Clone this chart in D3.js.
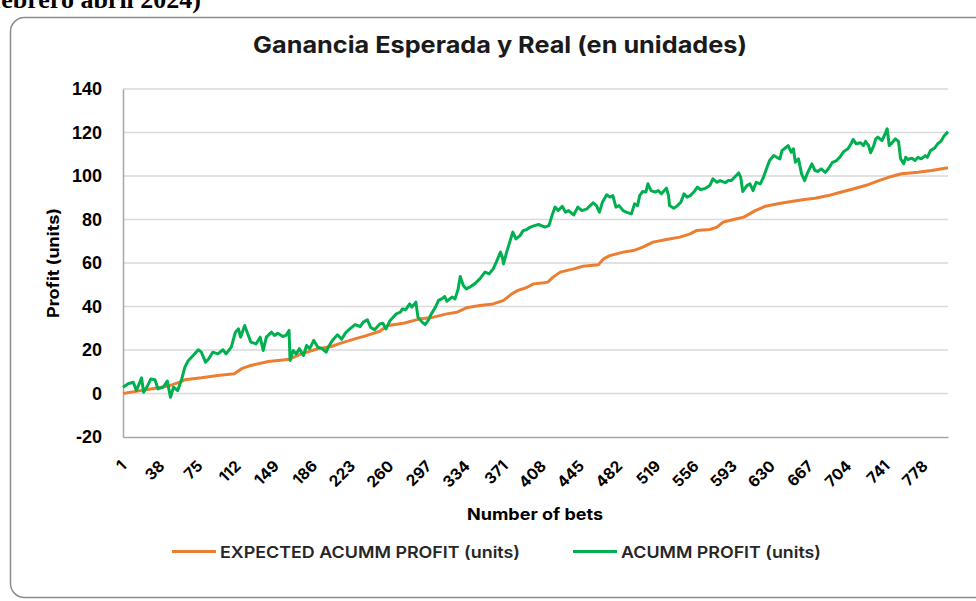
<!DOCTYPE html>
<html><head><meta charset="utf-8">
<script src="https://cdn.jsdelivr.net/npm/d3@7"></script>
<style>body{margin:0;background:#fff}svg{display:block}</style>
</head><body>
<svg id="c" width="976" height="601"></svg>
<script>
// ---- data ----
const actualBets = [1,6,11,14,19,21,25,28,32,35,40,44,47,50,54,58,61,64,69,74,77,81,84,88,93,98,101,106,110,113,115,119,122,125,130,134,137,140,145,148,151,156,159,162,163,166,169,172,176,179,182,186,190,194,198,200,204,209,213,217,221,226,231,234,238,241,245,250,253,256,260,263,266,270,272,275,279,281,285,287,291,294,297,300,304,307,310,313,315,320,323,326,328,331,334,337,342,347,352,356,360,363,367,369,370,373,376,379,382,386,389,392,396,400,404,410,414,417,420,423,427,430,433,438,442,446,451,454,457,460,463,466,470,473,476,479,482,486,489,494,497,500,502,505,508,510,513,517,520,523,528,530,531,535,538,542,545,548,551,555,558,561,565,570,573,577,580,585,588,591,594,598,600,602,606,609,612,615,619,622,625,628,632,635,638,640,644,646,649,651,653,656,659,662,665,669,672,675,678,682,685,689,693,696,700,704,707,709,712,716,719,721,724,726,729,731,733,737,740,742,744,746,750,753,755,758,760,762,766,769,772,775,779,781,784,788,791,794,797,801];
const actualProfit = [2.9,4.5,5.2,1.4,7.2,0.6,3.7,6.7,6.3,2.1,2.9,5.7,-1.7,2.9,1.4,6.7,12.1,14.9,17.5,20.1,19,14.4,15.9,19,18.2,20.1,18.2,21.3,28.2,29.7,25.9,31.3,27.4,23.6,22.8,25.9,19.8,25.9,28.2,26.7,27.7,26.2,26.7,29,15.2,19.8,18.2,20.6,17.5,22.1,20.6,24.4,21.3,20.6,19,21.3,24.4,27,25,28,29.7,31.7,30.8,32.8,33.9,30.5,29.3,32,32.3,29.7,33.6,35.1,36.6,37.4,38.9,38.5,41.2,39.7,42,35.1,32.8,31.7,33.6,36.6,39.7,42.8,43.5,44.6,42.4,44.3,43.5,48.1,53.8,49.7,48.1,48.9,50.4,52.7,55.8,55,57.3,60.4,65,62.4,59.6,65,69.6,74.2,71.1,72.6,74.9,75.3,76.5,77.2,77.7,76.5,77.2,81.8,85.7,84.1,86.1,83.4,84.1,82.1,85.7,84.1,84.9,86.4,87.7,86.4,83.4,88.1,91.4,90.3,91.0,85.7,86.4,84.1,83.4,82.6,87.2,86.4,91.0,92.9,92.6,96.4,93.3,92.6,93.3,91.8,94.4,91.0,86.4,85.2,86.1,88.0,91.8,90.3,91.0,92.9,94.9,93.8,94.1,95.6,98.7,97.1,97.9,96.9,97.9,97.9,99.4,101.4,99.4,92.9,95.6,96.4,93.3,97.1,96.4,99.4,103.3,107.1,109.4,108.6,107.9,111.7,113.2,114,110.9,112.5,106.3,107.9,101,97.9,101.7,105.6,102.5,102.1,103.3,101.7,103.3,106.3,107.1,108.6,111.3,112.5,114.8,116.8,114.8,115.3,114,115.9,114,110.7,114,117.1,117.9,116.3,119.4,121.7,114,114.8,117.1,115.9,107.9,105.6,108.6,107.6,108.2,107.1,108.6,107.9,109.4,108.6,111.7,112.8,114.8,115.9,118.3,120.4];
const expectedBets = [1,15,28,45,56,61,77,93,109,116,125,142,158,163,174,190,203,213,225,237,250,258,273,289,302,315,325,334,347,360,370,378,384,392,399,409,413,418,425,438,447,462,467,473,486,496,505,515,528,541,551,557,570,577,583,593,603,614,624,636,649,662,672,685,695,707,721,734,746,756,772,785,801];
const expectedProfit = [0,1.1,2.1,3.4,5.2,6.3,7.2,8.3,9.1,11.4,12.9,14.7,15.5,15.9,18.2,20.6,21.6,23.3,25,26.6,28.6,31.3,32.3,34.3,35.1,36.6,37.4,39.4,40.5,41.2,42.8,45.8,47.4,48.6,50.4,50.9,51.2,53.5,55.8,57.3,58.5,59.2,61.9,63.4,65,65.7,67.3,69.6,70.8,71.9,73.4,74.9,75.4,76.5,78.8,80,81.1,84.1,86.1,87.2,88.3,89.2,89.8,91,92.3,93.8,95.6,97.9,99.8,101,101.7,102.5,103.8];
const xTickLabels = [1,38,75,112,149,186,223,260,297,334,371,408,445,482,519,556,593,630,667,704,741,778];
const yTicks = [-20,0,20,40,60,80,100,120,140];
const seriesNames = ["EXPECTED ACUMM PROFIT (units)", "ACUMM PROFIT (units)"];
const seriesColors = ["#ED7D31", "#00B050"];
const titleText = "Ganancia Esperada y Real (en unidades)";
const topCaption = "febrero abril 2024)";

// ---- drawing ----
const svg = d3.select("#c");
const sans = "Inter, 'Open Sans', 'Noto Sans', sans-serif";

svg.append("text").attr("x", 201).attr("y", 8)
  .attr("text-anchor", "end")
  .style("font-family", "'Liberation Serif', 'Times New Roman', serif")
  .style("font-size", "26px").style("font-weight", "bold")
  .attr("fill", "#000").text(topCaption);

svg.append("rect").attr("x", 10.5).attr("y", 17.5).attr("width", 1000).attr("height", 580)
  .attr("rx", 14).attr("fill", "#fff").attr("stroke", "#8c8c8c").attr("stroke-width", 1.5);

const x = d3.scaleLinear().domain([1, 801]).range([123, 948]);
const y = d3.scaleLinear().domain([-20, 140]).range([437, 89]);

svg.append("text").attr("x", 500).attr("y", 53).attr("text-anchor", "middle")
  .style("font-family", sans).style("font-size", "23px").style("font-weight", "700")
  .attr("textLength", 494).attr("lengthAdjust", "spacingAndGlyphs")
  .attr("fill", "#1a1a1a").text(titleText);

// gridlines
svg.append("g").selectAll("line").data(yTicks.filter(d => d > -20)).join("line")
  .attr("x1", 123).attr("x2", 948)
  .attr("y1", d => y(d)).attr("y2", d => y(d))
  .attr("stroke", "#d9d9d9").attr("stroke-width", 1.5);

// y axis
const yAxis = svg.append("g").attr("transform", "translate(123,0)")
  .call(d3.axisLeft(y).tickValues(yTicks).tickSize(0).tickPadding(21).tickFormat(d => String(d)));
yAxis.select(".domain").attr("stroke", "#a6a6a6").attr("stroke-width", 1.5);
yAxis.selectAll("text").style("font-family", "'Liberation Sans', Arial, sans-serif")
  .style("font-size", "18px").style("font-weight", "bold").attr("fill", "#000");

// x axis
const xAxis = svg.append("g").attr("transform", "translate(0,437)")
  .call(d3.axisBottom(x).tickValues(xTickLabels).tickSize(0).tickFormat(d => String(d)));
xAxis.select(".domain").attr("stroke", "#a6a6a6").attr("stroke-width", 1.5);
xAxis.selectAll("text")
  .attr("text-anchor", "end").attr("dy", 0).attr("y", 0)
  .attr("transform", "translate(4,30) rotate(-45)")
  .style("font-family", sans).style("font-size", "15.5px").style("font-weight", "bold").attr("fill", "#000");

// axis titles
svg.append("text").attr("transform", "translate(59,263) rotate(-90)").attr("text-anchor", "middle")
  .style("font-family", sans).style("font-size", "16px").style("font-weight", "bold")
  .attr("textLength", 110).attr("lengthAdjust", "spacingAndGlyphs")
  .attr("fill", "#000").text("Profit (units)");
svg.append("text").attr("x", 535).attr("y", 520).attr("text-anchor", "middle")
  .style("font-family", sans).style("font-size", "16px").style("font-weight", "bold")
  .attr("textLength", 136).attr("lengthAdjust", "spacingAndGlyphs")
  .attr("fill", "#000").text("Number of bets");

// lines
const line = d3.line().x(d => x(d[0])).y(d => y(d[1]));
const expData = expectedBets.map((b, i) => [b, expectedProfit[i]]);
const actData = actualBets.map((b, i) => [b, actualProfit[i]]);
svg.append("path").datum(expData).attr("d", line).attr("fill", "none")
  .attr("stroke", seriesColors[0]).attr("stroke-width", 3).attr("stroke-linejoin", "round");
svg.append("path").datum(actData).attr("d", line).attr("fill", "none")
  .attr("stroke", seriesColors[1]).attr("stroke-width", 3).attr("stroke-linejoin", "round");

// legend
const legendPos = [{lx: 172, tx: 220, w: 300}, {lx: 573, tx: 621, w: 200}];
const lg = svg.append("g");
seriesNames.forEach((name, i) => {
  lg.append("line").attr("x1", legendPos[i].lx).attr("x2", legendPos[i].lx + 44)
    .attr("y1", 551.5).attr("y2", 551.5).attr("stroke", seriesColors[i]).attr("stroke-width", 3);
  lg.append("text").attr("x", legendPos[i].tx).attr("y", 558)
    .style("font-family", sans).style("font-size", "16.5px").style("font-weight", "600")
    .attr("textLength", legendPos[i].w).attr("lengthAdjust", "spacingAndGlyphs")
    .attr("fill", "#262626").text(name);
});
</script>
</body></html>
